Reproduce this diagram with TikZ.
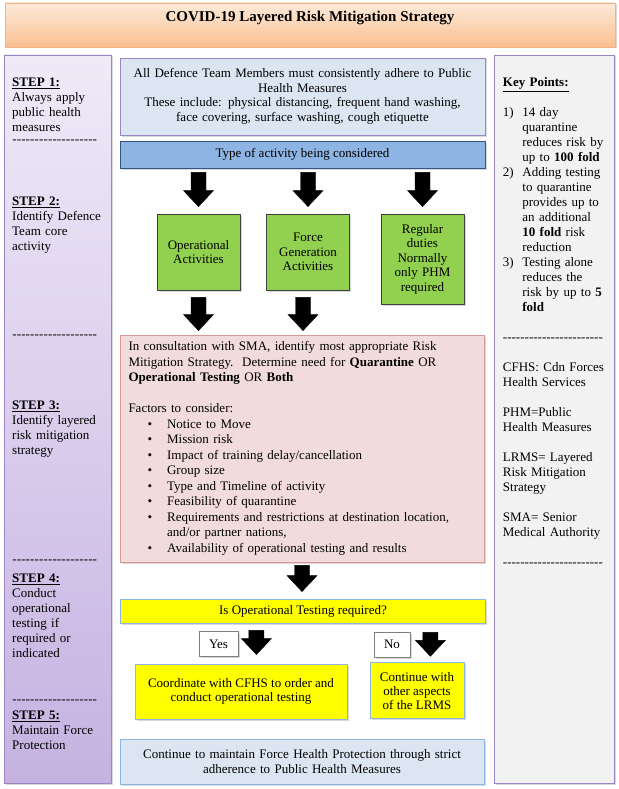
\documentclass[tikz,border=0pt]{standalone}
\usepackage{fontspec}
\setmainfont{Liberation Serif}
\usetikzlibrary{calc,shadows}

\definecolor{laranjaclaro}{HTML}{FDEADA}
\definecolor{laranja}{HTML}{FAC090}
\definecolor{bordalaranja}{HTML}{F4B183}
\definecolor{lilasclaro}{HTML}{EFEAF8}
\definecolor{lilas}{HTML}{C5B2E1}
\definecolor{bordalilas}{HTML}{9B85C2}
\definecolor{cinzaclaro}{HTML}{F2F2F2}
\definecolor{azulclaro}{HTML}{DCE6F2}
\definecolor{azulmedio}{HTML}{8DB4E2}
\definecolor{bordaazul}{HTML}{34557F}
\definecolor{bordaazulclaro}{HTML}{8EB4E3}
\definecolor{verde}{HTML}{92D050}
\definecolor{rosa}{HTML}{F2DCDB}
\definecolor{bordarosa}{HTML}{D99694}
\definecolor{amarelo}{HTML}{FFFF00}
\definecolor{cinzaborda}{HTML}{7F7F7F}

\newcommand{\tracos}[1]{\leavevmode\xleaders\hbox{-}\hskip #1\relax\null}
\newcommand{\passo}[1]{\underline{\textbf{#1}}}
\newcommand{\marca}[1]{\makebox[19.5pt][l]{#1}}
\newcommand{\topico}{\hspace*{19pt}\makebox[19.6pt][l]{\textbullet}}

\tikzset{
  sombra/.style={drop shadow={shadow xshift=1.5pt,shadow yshift=-1.5pt,opacity=0.3}},
  caixa/.style={draw, line width=0.8pt, sombra, inner sep=0pt, align=center},
  faixatitulo/.style={caixa, draw=bordalaranja, top color=laranjaclaro, bottom color=laranja,
    minimum width=610pt, minimum height=44pt},
  colunaesq/.style={caixa, draw=bordalilas, top color=lilasclaro, bottom color=lilas,
    minimum width=107pt, minimum height=728pt},
  colunadir/.style={caixa, draw=bordalilas, fill=cinzaclaro, minimum width=120pt, minimum height=728pt},
  textoesq/.style={anchor=base west, inner sep=0pt, text width=95pt, align=left},
  textodir/.style={anchor=base west, inner sep=0pt, text width=108pt, align=left},
  caixaazul/.style={caixa, fill=azulclaro, text width=355pt, font=\fontsize{13}{14.5}\selectfont},
  caixaverde/.style={caixa, fill=verde, draw=black!75, minimum width=83pt, text width=80pt,
    font=\fontsize{13}{14.5}\selectfont},
  caixaamarela/.style={caixa, fill=amarelo, draw=bordaazulclaro, font=\fontsize{13}{14}\selectfont},
  rotulo/.style={caixa, fill=white, draw=cinzaborda, minimum height=25pt},
  setabloco/.style={fill=black, draw=black, line width=0.4pt, line join=miter,
    to path={let \p1=(\tikztostart), \p2=(\tikztotarget) in
      (\x1-7.5pt,\y1) -- (\x1+7.5pt,\y1) -- (\x1+7.5pt,\y2+16pt) -- (\x1+15pt,\y2+16pt)
      -- (\x1,\y2) -- (\x1-15pt,\y2+16pt) -- (\x1-7.5pt,\y2+16pt) -- cycle}}
}

\begin{document}
\begin{tikzpicture}[x=1pt, y=-1pt, font=\fontsize{13}{15}\selectfont]
\useasboundingbox (0,0) rectangle (618,789);
	%Titulo
\node[faixatitulo] (faixa) at (310,25) {};
\node[font=\fontsize{15}{18}\selectfont\bfseries] (titulo) at (310,17.5) {COVID-19 Layered Risk Mitigation Strategy};
	%Colunas laterais
\node[colunaesq] (colesq) at (57.5,419) {};
\node[colunadir] (coldir) at (554,419) {};
	%Passos (coluna esquerda)
\node[textoesq] (passo1) at (12,86.5) {\passo{STEP 1:}\\Always apply\\public health\\measures};
\node[textoesq] (tracos1) at (12,143.5) {\tracos{85pt}};
\node[textoesq] (passo2) at (12,205.5) {\passo{STEP 2:}\\Identify Defence\\Team core\\activity};
\node[textoesq] (tracos2) at (12,338.5) {\tracos{85pt}};
\node[textoesq] (passo3) at (12,409.5) {\passo{STEP 3:}\\Identify layered\\risk mitigation\\strategy};
\node[textoesq] (tracos3) at (12,563.5) {\tracos{85pt}};
\node[textoesq] (passo4) at (12,582.5) {\passo{STEP 4:}\\Conduct\\operational\\testing if\\required or\\indicated};
\node[textoesq] (tracos4) at (12,703.5) {\tracos{85pt}};
\node[textoesq] (passo5) at (12,719.5) {\passo{STEP 5:}\\Maintain Force\\Protection};
	%Pontos-chave (coluna direita)
\node[textodir] (pontos) at (502.7,86.5) {\passo{Key Points:}\\[15pt]
  \marca{1)}14 day\\ \marca{}quarantine\\ \marca{}reduces risk by\\ \marca{}up to \textbf{100 fold}\\
  \marca{2)}Adding testing\\ \marca{}to quarantine\\ \marca{}provides up to\\ \marca{}an additional\\
  \marca{}\textbf{10 fold} risk\\ \marca{}reduction\\
  \marca{3)}Testing alone\\ \marca{}reduces the\\ \marca{}risk by up to \textbf{5}\\ \marca{}\textbf{fold}\\[15pt]
  \tracos{100pt}\\[15pt]
  CFHS: Cdn Forces\\Health Services\\[15pt]
  PHM=Public\\Health Measures\\[15pt]
  LRMS= Layered\\Risk Mitigation\\Strategy\\[15pt]
  SMA= Senior\\Medical Authority\\[15pt]
  \tracos{100pt}};
	%Caixas centrais
\node[caixaazul, draw=bordalilas, minimum width=365pt, minimum height=77pt] (phm) at (302.5,96.5)
  {All Defence Team Members must consistently adhere to Public\\Health Measures\\These include: physical distancing, frequent hand washing,\\face covering, surface washing, cough etiquette};
\node[caixa, fill=azulmedio, draw=bordaazul, minimum width=365pt, minimum height=27pt] (tipo) at (302.5,154.5) {Type of activity being considered};
\node[caixaverde, minimum height=76pt] (oper) at (198.5,252) {Operational\\Activities};
\node[caixaverde, minimum height=76pt] (fgen) at (308,252) {Force\\Generation\\Activities};
\node[caixaverde, minimum height=90pt] (regular) at (422.5,259) {Regular\\duties\\Normally\\only PHM\\required};
\node[caixa, fill=rosa, draw=bordarosa, align=left, inner xsep=8.5pt, text width=347pt,
  minimum width=364pt, minimum height=227pt, font=\fontsize{13}{15.5}\selectfont] (verm) at (302,448.5)
  {In consultation with SMA, identify most appropriate Risk\\
   Mitigation Strategy.\ \ Determine need for \textbf{Quarantine} OR\\
   \textbf{Operational Testing} OR \textbf{Both}\\[15.5pt]
   Factors to consider:\\
   \topico Notice to Move\\
   \topico Mission risk\\
   \topico Impact of training delay/cancellation\\
   \topico Group size\\
   \topico Type and Timeline of activity\\
   \topico Feasibility of quarantine\\
   \topico Requirements and restrictions at destination location,\\
   \hspace*{38.6pt}and/or partner nations,\\
   \topico Availability of operational testing and results};
\node[caixaamarela, minimum width=365pt, minimum height=24pt] (pergunta) at (303,611) {Is Operational Testing required?};
\node[rotulo, minimum width=39pt] (sim) at (218.5,644) {Yes};
\node[rotulo, minimum width=36pt] (nao) at (392,644.5) {No};
\node[caixaamarela, minimum width=212pt, minimum height=55pt] (acaosim) at (241,691.5) {Coordinate with CFHS to order and\\conduct operational testing};
\node[caixaamarela, minimum width=94pt, minimum height=56pt] (acaonao) at (417,690.7) {Continue with\\other aspects\\of the LRMS};
\node[caixaazul, draw=bordaazulclaro, minimum width=364pt, minimum height=45pt] (final) at (302,761.5)
  {Continue to maintain Force Health Protection through strict\\adherence to Public Health Measures};
	%Setas
\draw[setabloco] ($(tipo.south -| oper.north)+(0,4)$) to ($(oper.north)+(0,-7)$);
\draw[setabloco] ($(tipo.south -| fgen.north)+(0,4)$) to ($(fgen.north)+(0,-7)$);
\draw[setabloco] ($(tipo.south -| regular.north)+(0,4)$) to ($(regular.north)+(0,-7)$);
\draw[setabloco] ($(oper.south)+(0,7)$) to ($(oper.south |- verm.north)+(0,-4)$);
\draw[setabloco] ($(fgen.south)+(-5,7)$) to ($(fgen.south |- verm.north)+(-5,-4)$);
\draw[setabloco] ($(verm.south)+(0,3)$) to ($(pergunta.north)+(0,-7)$);
\coordinate (setasim) at ($(sim.east)+(18,0)$);
\coordinate (setanao) at ($(nao.east)+(20,0)$);
\draw[setabloco] ($(setasim |- pergunta.south)+(0,7)$) to ($(setasim |- acaosim.north)+(0,-9)$); %Seta do Yes
\draw[setabloco] ($(setanao |- pergunta.south)+(0,9)$) to ($(setanao |- acaonao.north)+(0,-6)$); %Seta do No
\end{tikzpicture}
\end{document}
